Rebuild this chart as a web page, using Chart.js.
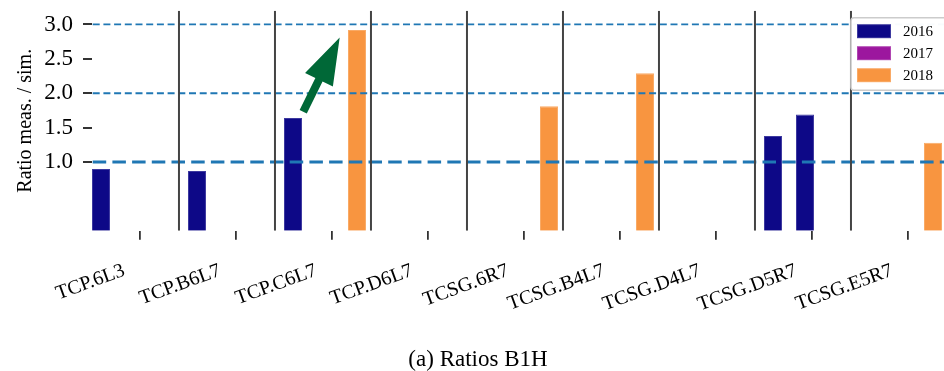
<!DOCTYPE html>
<html>
<head>
<meta charset="utf-8">
<script src="https://cdn.jsdelivr.net/npm/chart.js@4/dist/chart.umd.min.js"></script>
<style>
  html, body { margin: 0; padding: 0; background: #ffffff; }
  #wrap { width: 944px; height: 371px; }
</style>
</head>
<body>
<div id="wrap"><canvas id="c" width="944" height="371"></canvas></div>
<script>
// ---------------- data ----------------
const categories = ['TCP.6L3', 'TCP.B6L7', 'TCP.C6L7', 'TCP.D6L7', 'TCSG.6R7', 'TCSG.B4L7', 'TCSG.D4L7', 'TCSG.D5R7', 'TCSG.E5R7'];
const seriesNames = ['2016', '2017', '2018'];
const values2016 = [0.90, 0.87, 1.64, null, null, null, null, 1.38, null];
const values2017 = [null, null, null, null, null, null, null, 1.69, null];
const values2018 = [null, null, 2.92, null, 1.81, 2.29, null, null, 1.28];
const yTickValues = [1.0, 1.5, 2.0, 2.5, 3.0];
const refLines = [1.0, 2.0, 3.0];
const arrowFrom = { x: 1.70, y: 1.73 };
const arrowTo = { x: 2.08, y: 2.81 };
const yTitle = 'Ratio meas. / sim.';
const caption = '(a) Ratios B1H';

// ---------------- styles ----------------
const FONT = "'Liberation Serif', 'DejaVu Serif', serif";
const COLORS = ['#0d0887', '#9c179e', '#f89540'];
const EDGES = ['#3d399f', '#b045b1', '#f9aa66'];
const GROUP_SHIFT = -0.073;   // bar groups sit slightly left of their tick
const SEP_SHIFT = 0.406;      // vertical separators between groups
// the 2017 slot of TCSG.D5R7 is drawn in the 2016 colour in the reference
const fill2017 = categories.map(c => c === 'TCSG.D5R7' ? COLORS[0] : COLORS[1]);
const edge2017 = categories.map(c => c === 'TCSG.D5R7' ? EDGES[0] : EDGES[1]);

const toPoints = arr => arr.map((v, i) => ({ x: i + GROUP_SHIFT, y: v }));

const barCommon = { categoryPercentage: 1.0, barPercentage: 0.5625, borderWidth: 1, borderSkipped: 'start' };

const decorations = {
  id: 'decorations',
  afterDatasetsDraw(chart) {
    const { ctx, chartArea: a, scales: { x, y } } = chart;
    ctx.save();
    ctx.beginPath();
    ctx.rect(a.left, a.top, a.right - a.left, a.bottom - a.top);
    ctx.clip();
    // horizontal reference lines
    refLines.forEach(v => {
      const py = y.getPixelForValue(v);
      const major = v === 1.0;
      ctx.strokeStyle = '#1f77b4';
      ctx.lineWidth = major ? 3 : 1.8;
      ctx.setLineDash(major ? [13.5, 6.2] : [7, 3.7]);
      ctx.beginPath();
      ctx.moveTo(a.left + 0.7, py);
      ctx.lineTo(a.right, py);
      ctx.stroke();
    });
    // vertical separators
    ctx.setLineDash([]);
    ctx.strokeStyle = '#444444';
    ctx.lineWidth = 2;
    for (let i = 0; i < categories.length - 1; i++) {
      const px = x.getPixelForValue(i + SEP_SHIFT);
      ctx.beginPath();
      ctx.moveTo(px, a.top);
      ctx.lineTo(px, a.bottom);
      ctx.stroke();
    }
    ctx.restore();

    // arrow annotation
    const tx = x.getPixelForValue(arrowFrom.x), ty = y.getPixelForValue(arrowFrom.y);
    const hx = x.getPixelForValue(arrowTo.x), hy = y.getPixelForValue(arrowTo.y);
    const dx = hx - tx, dy = hy - ty, len = Math.hypot(dx, dy);
    const ux = dx / len, uy = dy / len, nx = -uy, ny = ux;
    const headLen = 47, headHalf = 15.5, shaftHalf = 4;
    const bx = hx - ux * headLen, by = hy - uy * headLen;
    ctx.save();
    ctx.fillStyle = '#006837';
    ctx.beginPath();
    ctx.moveTo(tx + nx * shaftHalf, ty + ny * shaftHalf);
    ctx.lineTo(bx + nx * shaftHalf, by + ny * shaftHalf);
    ctx.lineTo(bx + nx * headHalf, by + ny * headHalf);
    ctx.lineTo(hx, hy);
    ctx.lineTo(bx - nx * headHalf, by - ny * headHalf);
    ctx.lineTo(bx - nx * shaftHalf, by - ny * shaftHalf);
    ctx.lineTo(tx - nx * shaftHalf, ty - ny * shaftHalf);
    ctx.closePath();
    ctx.fill();
    ctx.restore();
  },
  afterDraw(chart) {
    const { ctx, chartArea: a } = chart;
    // legend box
    const lx = a.right - 93, ly = a.top + 7, lw = 110, lh = 72.5;
    ctx.save();
    ctx.fillStyle = 'rgba(255,255,255,0.97)';
    ctx.strokeStyle = '#cccccc';
    ctx.lineWidth = 1.6;
    ctx.beginPath();
    if (ctx.roundRect) ctx.roundRect(lx, ly, lw, lh, 3); else ctx.rect(lx, ly, lw, lh);
    ctx.fill();
    ctx.stroke();
    ctx.font = '15px ' + FONT;
    ctx.textAlign = 'left';
    ctx.textBaseline = 'middle';
    chart.data.datasets.forEach((ds, i) => {
      const py = ly + 6.5 + i * 22;
      ctx.fillStyle = EDGES[i];
      ctx.fillRect(lx + 6, py, 34, 14);
      ctx.fillStyle = COLORS[i];
      ctx.fillRect(lx + 7, py + 1, 32, 12);
      ctx.fillStyle = '#000000';
      ctx.fillText(ds.label, lx + 52, py + 7.5);
    });
    // caption
    ctx.font = '23px ' + FONT;
    ctx.textAlign = 'center';
    ctx.textBaseline = 'alphabetic';
    ctx.fillStyle = '#000000';
    ctx.fillText(caption, chart.width / 2 + 6, 366);
    ctx.restore();
  }
};

new Chart(document.getElementById('c'), {
  type: 'bar',
  data: {
    datasets: [
      Object.assign({ label: seriesNames[0], data: toPoints(values2016), backgroundColor: COLORS[0], borderColor: EDGES[0] }, barCommon),
      Object.assign({ label: seriesNames[1], data: toPoints(values2017), backgroundColor: fill2017, borderColor: edge2017 }, barCommon),
      Object.assign({ label: seriesNames[2], data: toPoints(values2018), backgroundColor: COLORS[2], borderColor: EDGES[2] }, barCommon)
    ]
  },
  options: {
    responsive: false,
    animation: false,
    layout: { padding: { top: 10.7, right: 0, bottom: 0, left: 0 } },
    plugins: { legend: { display: false }, tooltip: { enabled: false }, title: { display: false } },
    scales: {
      x: {
        type: 'linear',
        min: -0.5,
        max: 8.375,
        offset: false,
        grid: { offset: false, drawOnChartArea: false, drawTicks: true, tickLength: 9, color: '#333333', lineWidth: 1.8 },
        border: { display: false },
        afterBuildTicks: s => { s.ticks = categories.map((c, i) => ({ value: i })); },
        ticks: {
          autoSkip: false,
          maxRotation: 20,
          minRotation: 20,
          padding: 19,
          labelOffset: -16,
          color: '#000000',
          font: { family: FONT, size: 20 },
          callback: (v, i) => categories[i]
        },
        afterFit: s => { s.height = 140.15; s.paddingLeft = 0; s.paddingRight = 0; }
      },
      y: {
        type: 'linear',
        min: 0,
        max: 3.2,
        afterBuildTicks: s => { s.ticks = yTickValues.map(v => ({ value: v })); },
        grid: { drawOnChartArea: false, drawTicks: true, tickLength: 9, color: '#333333', lineWidth: 2 },
        border: { display: false },
        ticks: { padding: 10, color: '#000000', font: { family: FONT, size: 23 }, callback: v => Number(v).toFixed(1) },
        title: { display: true, text: yTitle, color: '#000000', font: { family: FONT, size: 20 }, padding: { top: 14, bottom: 0 } },
        afterFit: s => { s.width = 92; s.paddingTop = 0; s.paddingBottom = 0; }
      }
    }
  },
  plugins: [decorations]
});
</script>
</body>
</html>
